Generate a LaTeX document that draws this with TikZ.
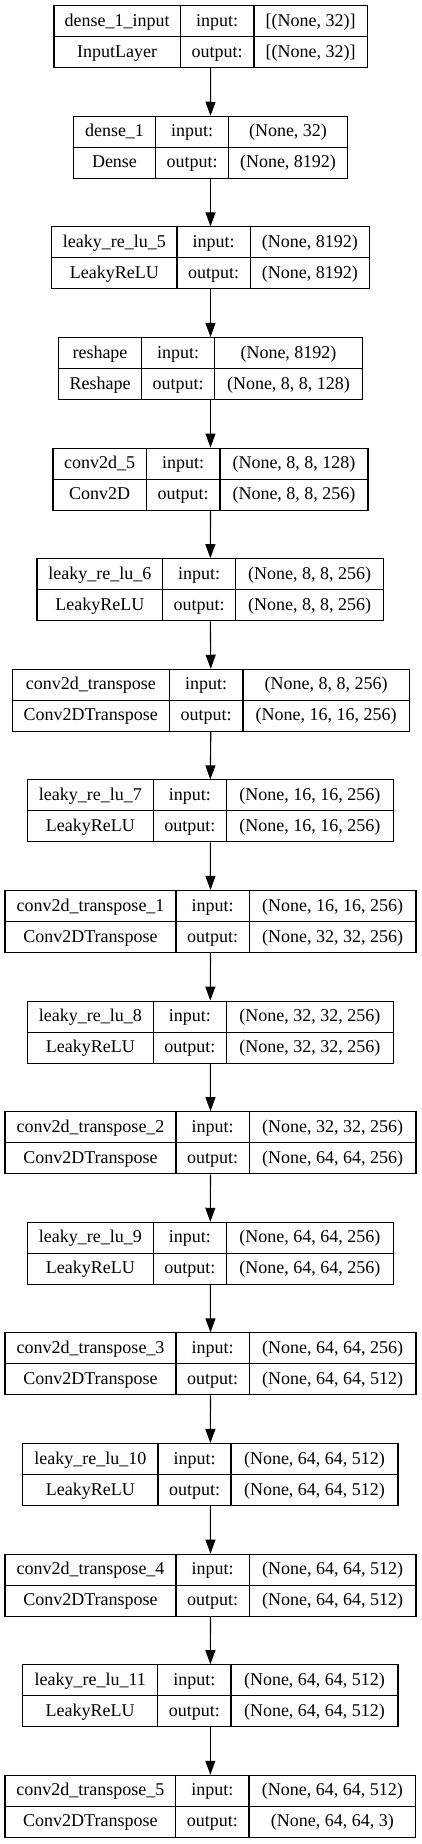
\documentclass[tikz,border=0pt]{standalone}
\usepackage{fontspec}
\setmainfont{Liberation Serif}
\usetikzlibrary{arrows.meta}
\newcommand{\lfont}{\fontsize{18}{20}\selectfont}
\tikzset{
  layerbox/.style={draw=black, line width=1.1pt, minimum height=62pt, inner sep=0pt},
  cellline/.style={draw=black, line width=1.1pt},
  lbl/.style={font=\lfont, inner sep=0pt, anchor=base},
  flow/.style={draw=black, line width=1.1pt, -{Triangle[length=14pt, width=10pt]}}
}

\begin{document}
\begin{tikzpicture}[x=1pt, y=-1pt]
  \useasboundingbox (0,0) rectangle (421,1844);

  % ── one box per layer: index / column edges / name / type / shapes ──
  \foreach \i/\xa/\xb/\xc/\xd/\nm/\tp/\din/\dout in {
      1/54/180.3/254/367.3/dense\_1\_input/InputLayer/{[(None, 32)]}/{[(None, 32)]},
      2/73.7/155.3/228.7/347.3/dense\_1/Dense/{(None, 32)}/{(None, 8192)},
      3/51.7/177/250.3/369.3/leaky\_re\_lu\_5/LeakyReLU/{(None, 8192)}/{(None, 8192)},
      4/58.7/141.3/214.7/362.3/reshape/Reshape/{(None, 8192)}/{(None, 8, 8, 128)},
      5/53/146.3/220/368/conv2d\_5/Conv2D/{(None, 8, 8, 128)}/{(None, 8, 8, 256)},
      6/37/162.7/235.7/383.7/leaky\_re\_lu\_6/LeakyReLU/{(None, 8, 8, 256)}/{(None, 8, 8, 256)},
      7/12.3/169.3/243/409.3/conv2d\_transpose/Conv2DTranspose/{(None, 8, 8, 256)}/{(None, 16, 16, 256)},
      8/27.3/153.3/226.3/393.3/leaky\_re\_lu\_7/LeakyReLU/{(None, 16, 16, 256)}/{(None, 16, 16, 256)},
      9/5/176/249.3/416/conv2d\_transpose\_1/Conv2DTranspose/{(None, 16, 16, 256)}/{(None, 32, 32, 256)},
      10/27.3/153.3/226.3/393.3/leaky\_re\_lu\_8/LeakyReLU/{(None, 32, 32, 256)}/{(None, 32, 32, 256)},
      11/5/176/249.3/416/conv2d\_transpose\_2/Conv2DTranspose/{(None, 32, 32, 256)}/{(None, 64, 64, 256)},
      12/27.3/153.3/226.3/393.3/leaky\_re\_lu\_9/LeakyReLU/{(None, 64, 64, 256)}/{(None, 64, 64, 256)},
      13/5/176/249.3/416/conv2d\_transpose\_3/Conv2DTranspose/{(None, 64, 64, 256)}/{(None, 64, 64, 512)},
      14/22.7/158/231/398/leaky\_re\_lu\_10/LeakyReLU/{(None, 64, 64, 512)}/{(None, 64, 64, 512)},
      15/5/176/249.3/416/conv2d\_transpose\_4/Conv2DTranspose/{(None, 64, 64, 512)}/{(None, 64, 64, 512)},
      16/22.7/157.7/231/398/leaky\_re\_lu\_11/LeakyReLU/{(None, 64, 64, 512)}/{(None, 64, 64, 512)},
      17/5/175.7/249/415.7/conv2d\_transpose\_5/Conv2DTranspose/{(None, 64, 64, 512)}/{(None, 64, 64, 3)}}
  {
    \pgfmathsetmacro\ytop{5.7+110.6*(\i-1)}
    \pgfmathsetmacro\boxw{\xd-\xa}
    \node[layerbox, minimum width=\boxw pt] (L\i) at ({(\xa+\xd)/2},{\ytop+31}) {};
    \draw[cellline] ({\xa},{\ytop+31}) -- ({\xd},{\ytop+31});
    \draw[cellline] ({\xb},{\ytop}) -- ({\xb},{\ytop+62});
    \draw[cellline] ({\xc},{\ytop}) -- ({\xc},{\ytop+62});
    \node[lbl] (nm\i)  at ({(\xa+\xb)/2},{\ytop+20.5}) {\nm};
    \node[lbl] (tp\i)  at ({(\xa+\xb)/2},{\ytop+51.5}) {\tp};
    \node[lbl] (ki\i)  at ({(\xb+\xc)/2},{\ytop+20.5}) {input:};
    \node[lbl] (ko\i)  at ({(\xb+\xc)/2},{\ytop+51.5}) {output:};
    \node[lbl] (in\i)  at ({(\xc+\xd)/2},{\ytop+20.5}) {\din};
    \node[lbl] (out\i) at ({(\xc+\xd)/2},{\ytop+51.5}) {\dout};
  }

  % ── arrows between consecutive layers ──
  \foreach \i [count=\j from 2] in {1,...,16}
    \draw[flow] (L\i.south) -- (L\j.north);
\end{tikzpicture}
\end{document}
